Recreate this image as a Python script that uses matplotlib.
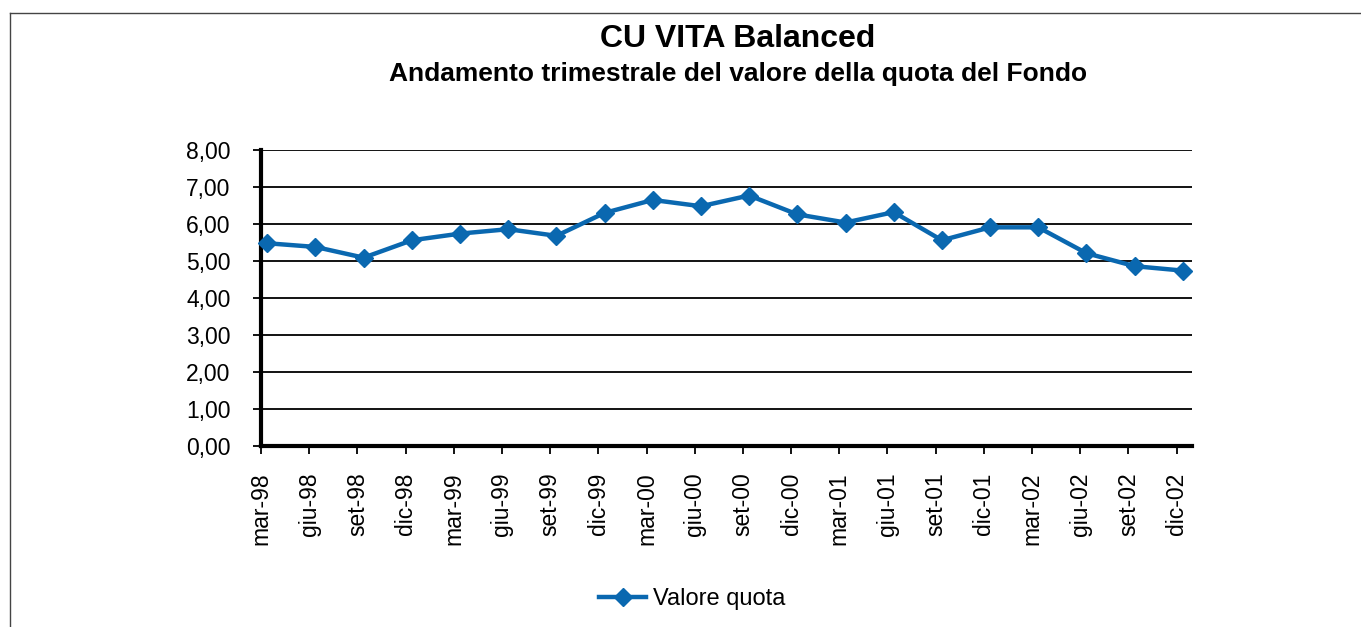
import matplotlib.pyplot as plt
import numpy as np
from matplotlib.lines import Line2D

plt.rcParams['font.family'] = ['Liberation Sans', 'DejaVu Sans']

# Dati
trimestri = ['mar-98', 'giu-98', 'set-98', 'dic-98', 'mar-99', 'giu-99', 'set-99', 'dic-99',
             'mar-00', 'giu-00', 'set-00', 'dic-00', 'mar-01', 'giu-01', 'set-01', 'dic-01',
             'mar-02', 'giu-02', 'set-02', 'dic-02']
valore_quota = [5.48, 5.38, 5.09, 5.56, 5.74, 5.86, 5.68, 6.30,
                6.65, 6.48, 6.77, 6.26, 6.04, 6.32, 5.56, 5.91,
                5.91, 5.21, 4.86, 4.74]
y_ticks = [0, 1, 2, 3, 4, 5, 6, 7, 8]
y_labels = ['0,00', '1,00', '2,00', '3,00', '4,00', '5,00', '6,00', '7,00', '8,00']

blu = '#0a68b0'

fig = plt.figure(figsize=(13.61, 6.27), dpi=100)
ax = fig.add_axes([261 / 1361, 1 - 446 / 627, 931 / 1361, 296 / 627])

x = np.arange(len(trimestri))
ax.plot(x + 0.13, valore_quota, color=blu, lw=3.2, marker='D', markersize=9,
        label='Valore quota', zorder=3, clip_on=False)

ax.set_xlim(0, 19.32)
ax.set_ylim(0, 8)
ax.set_yticks(y_ticks)
ax.set_yticklabels(y_labels)
ax.set_xticks(x)
ax.set_xticklabels(trimestri, rotation=90)

ax.grid(axis='y', color='black', lw=1.3)
ax.set_axisbelow(True)
for s in ['top', 'right']:
    ax.spines[s].set_visible(False)
ax.spines['left'].set_linewidth(3)
ax.spines['bottom'].set_linewidth(3)
ax.tick_params(axis='y', length=6, width=1.3, pad=16, labelsize=16.5)
ax.tick_params(axis='x', length=6, width=1.3, pad=13, labelsize=16.5)

fig.text(0.542, 1 - 39 / 627, 'CU VITA Balanced', ha='center', va='center',
         fontsize=23, fontweight='bold')
fig.text(0.542, 1 - 74 / 627, 'Andamento trimestrale del valore della quota del Fondo',
         ha='center', va='center', fontsize=19, fontweight='bold')

fig.legend(loc='center', bbox_to_anchor=(0.5087, 1 - 599 / 627), frameon=False,
           fontsize=17, handlelength=2.0, handletextpad=0.3)

# cornice
fig.add_artist(Line2D([10 / 1361, 1], [1 - 13 / 627, 1 - 13 / 627], color='#444444', lw=1))
fig.add_artist(Line2D([10 / 1361, 10 / 1361], [0, 1 - 13 / 627], color='#444444', lw=1))

fig.savefig('out.png', dpi=100)
